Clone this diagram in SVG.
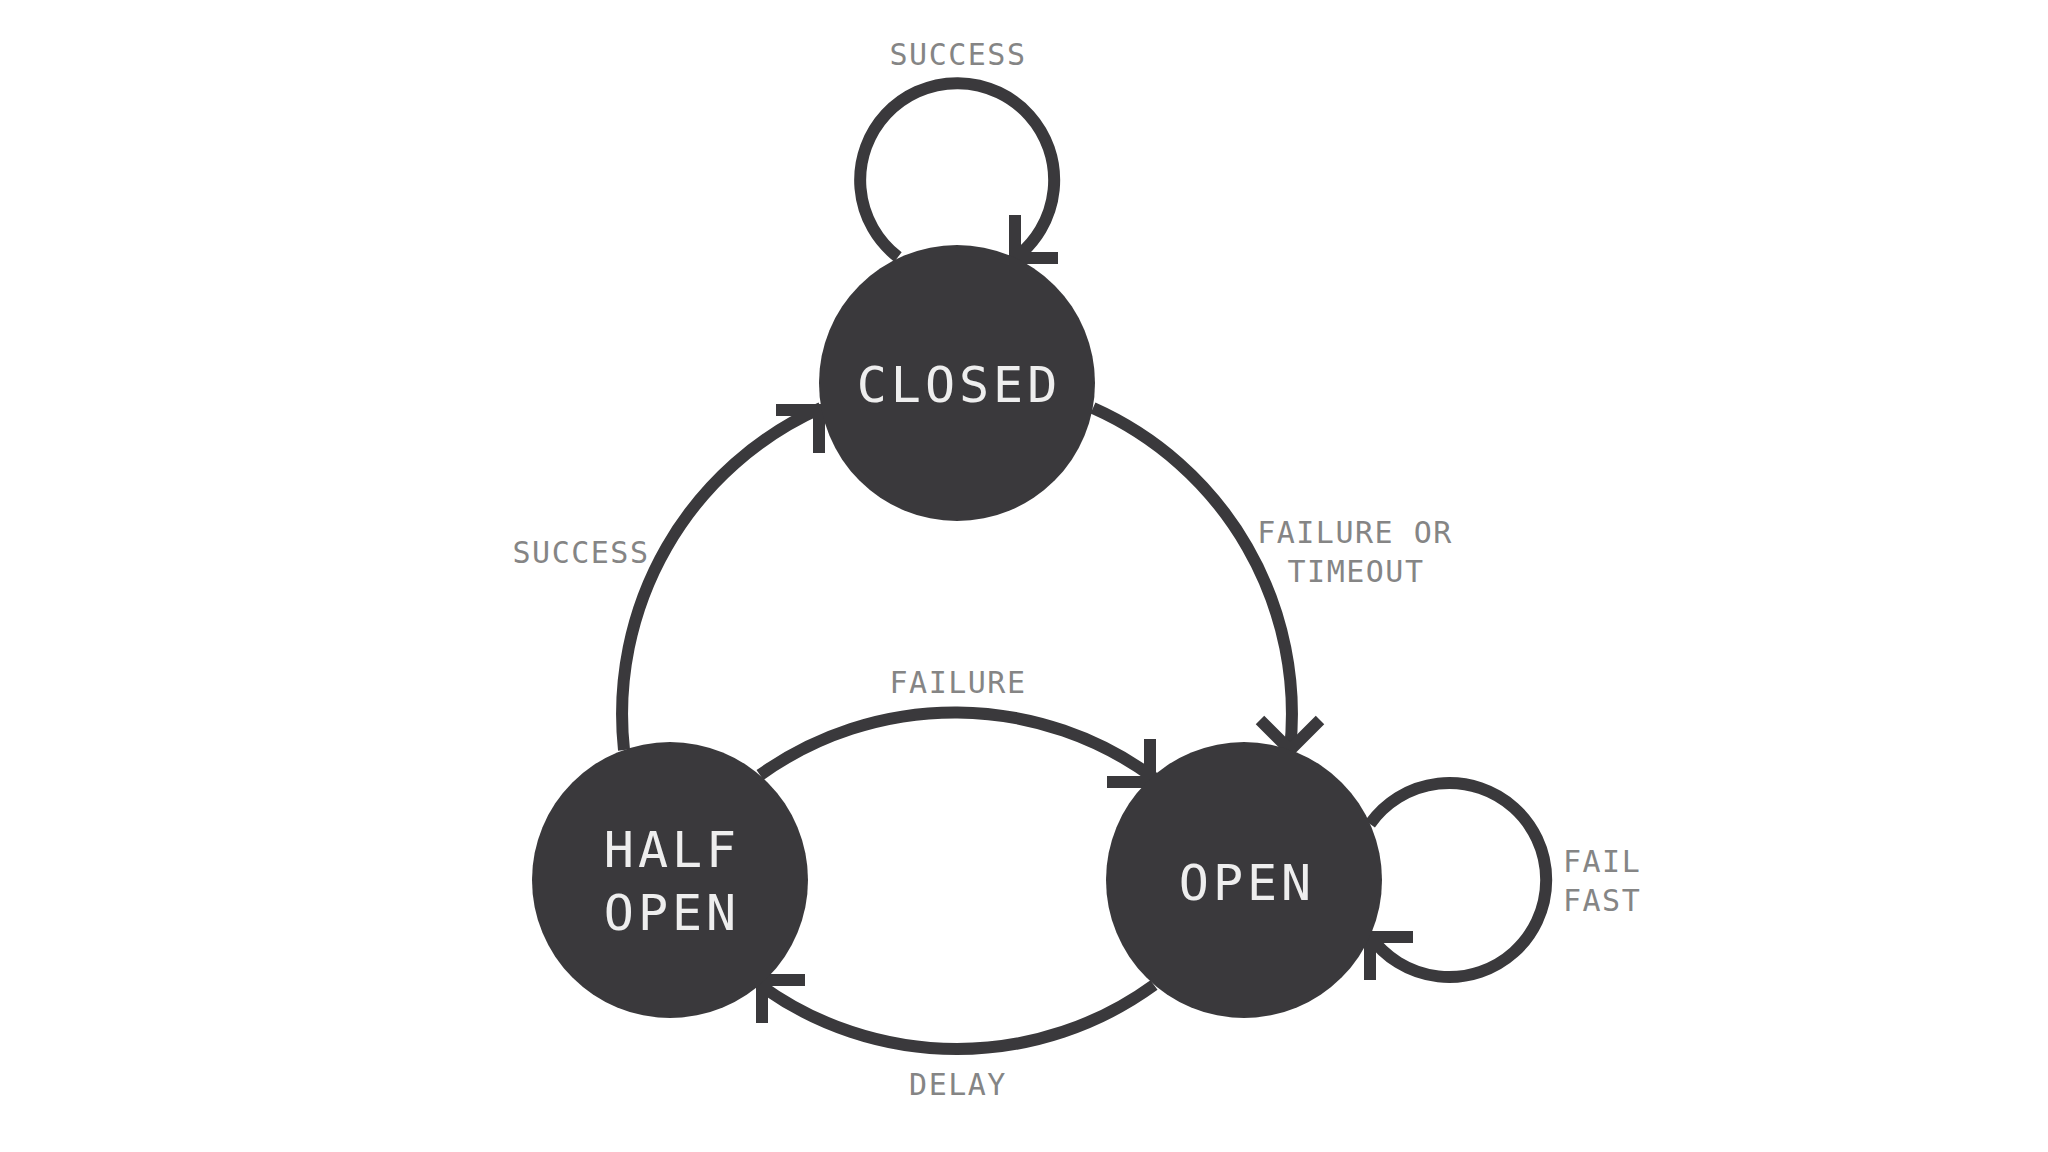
<svg xmlns="http://www.w3.org/2000/svg" width="2048" height="1152" viewBox="0 0 2048 1152">
  <style>
    .edge { fill: none; stroke: #3a393c; stroke-width: 12; stroke-linecap: butt; }
    .head { fill: none; stroke: #3a393c; stroke-width: 12; stroke-linecap: butt; stroke-linejoin: miter; }
    .node { fill: #3a393c; }
    .ntext { font-family: "DejaVu Sans Mono", "Liberation Mono", monospace; font-size: 50px; fill: #eeeeee; letter-spacing: 4px; text-anchor: middle; }
    .label { font-family: "DejaVu Sans Mono", "Liberation Mono", monospace; font-size: 30px; fill: #858585; letter-spacing: 1.5px; }
    .mid { text-anchor: middle; }
  </style>
  <rect width="2048" height="1152" fill="#ffffff"/>
  <g id="connectors">
    <!-- CLOSED self loop: SUCCESS -->
    <path class="edge" d="M 898 257 A 97 97 0 1 1 1015 258"/>
    <polyline class="head" points="1015,215 1015,258 1058,258"/>
    <!-- HALF OPEN -> CLOSED: SUCCESS -->
    <path class="edge" d="M 624 750 A 335 335 0 0 1 821 408"/>
    <polyline class="head" points="776,410 819,410 819,453"/>
    <!-- CLOSED -> OPEN: FAILURE OR TIMEOUT -->
    <path class="edge" d="M 1093 408 A 335 335 0 0 1 1290 750"/>
    <polyline class="head" points="1260,720 1290,750 1320,720"/>
    <!-- HALF OPEN -> OPEN: FAILURE -->
    <path class="edge" d="M 760 775 A 335 335 0 0 1 1154 778"/>
    <polyline class="head" points="1150,739 1150,782 1107,782"/>
    <!-- OPEN -> HALF OPEN: DELAY -->
    <path class="edge" d="M 1154 985 A 335 335 0 0 1 760 985"/>
    <polyline class="head" points="805,980 762,980 762,1023"/>
    <!-- OPEN self loop: FAIL FAST -->
    <path class="edge" d="M 1370 824 A 97 97 0 1 1 1370 936"/>
    <polyline class="head" points="1413,937 1370,937 1370,980"/>
  </g>
  <g id="edge-labels">
    <text class="label mid" x="958" y="65">SUCCESS</text>
    <text class="label mid" x="581" y="563">SUCCESS</text>
    <text class="label mid" x="1355" y="543">FAILURE OR</text>
    <text class="label mid" x="1356" y="582">TIMEOUT</text>
    <text class="label mid" x="958" y="693">FAILURE</text>
    <text class="label" x="1563" y="872">FAIL</text>
    <text class="label" x="1563" y="911">FAST</text>
    <text class="label mid" x="958" y="1095">DELAY</text>
  </g>
  <g id="node-closed">
    <circle class="node" cx="957" cy="383" r="138"/>
    <text class="ntext" x="959" y="402">CLOSED</text>
  </g>
  <g id="node-half-open">
    <circle class="node" cx="670" cy="880" r="138"/>
    <text class="ntext" x="672" y="867">HALF</text>
    <text class="ntext" x="672" y="930">OPEN</text>
  </g>
  <g id="node-open">
    <circle class="node" cx="1244" cy="880" r="138"/>
    <text class="ntext" x="1247" y="900">OPEN</text>
  </g>
</svg>
